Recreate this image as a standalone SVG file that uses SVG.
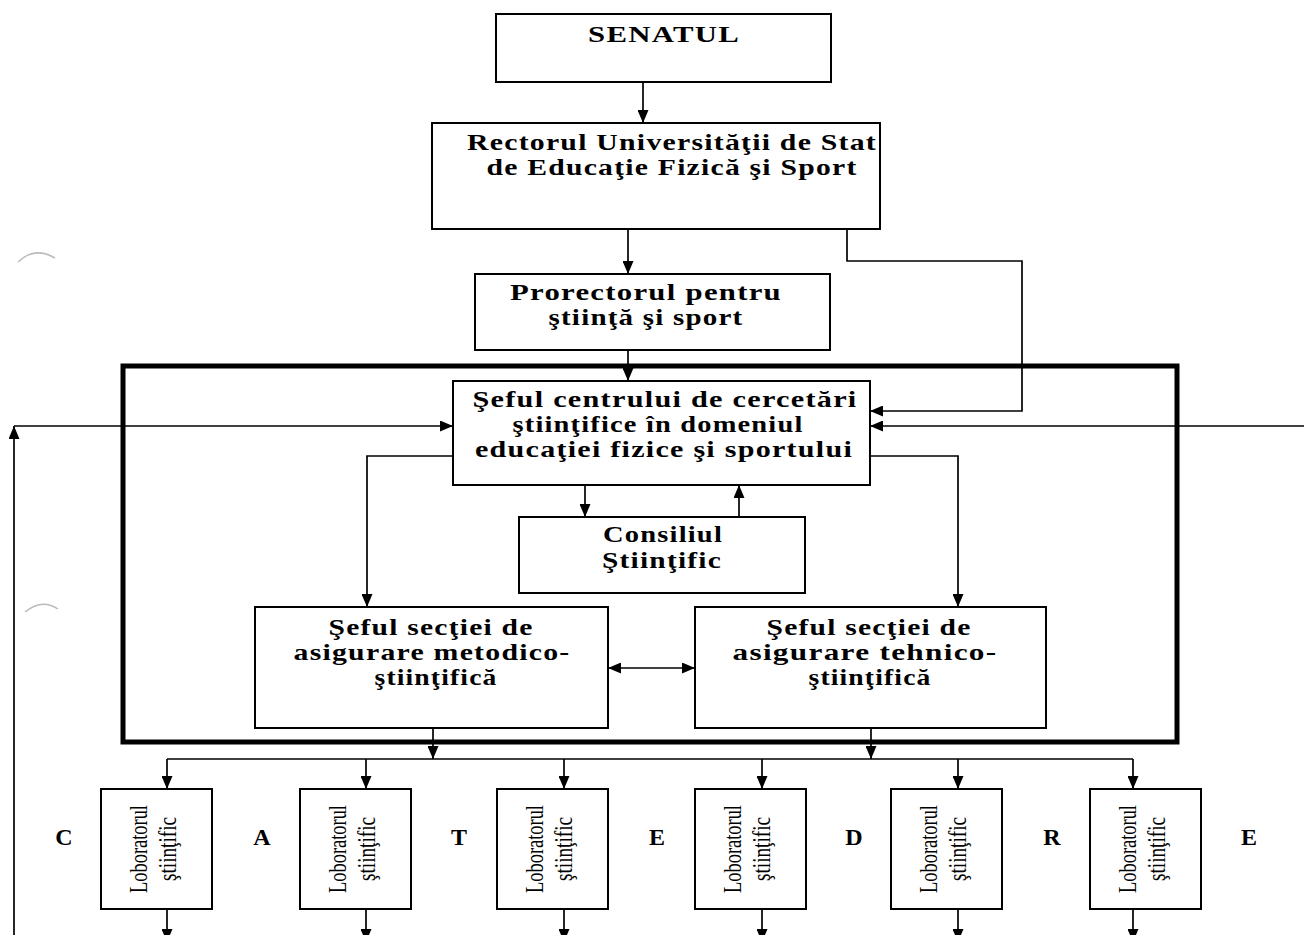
<svg xmlns="http://www.w3.org/2000/svg" width="1304" height="935" viewBox="0 0 1304 935">
<style>
.box{fill:#fff;stroke:#000;stroke-width:2}
.frame{fill:none;stroke:#000;stroke-width:5}
.t{font-family:"Liberation Serif","Times New Roman",serif;font-weight:bold;font-size:24px;fill:#000;text-anchor:middle;letter-spacing:1px}
.lab{font-family:"Liberation Serif","Times New Roman",serif;font-size:25px;fill:#000;text-anchor:middle}
.let{font-family:"Liberation Serif","Times New Roman",serif;font-weight:bold;font-size:24px;fill:#000;text-anchor:middle}
.c{fill:none;stroke:#000;stroke-width:1.7}
.a{marker-end:url(#ah)}
.punch{fill:none;stroke:#bbb;stroke-width:1.5}
</style>
<defs>
<marker id="ah" viewBox="0 0 13 11" refX="13" refY="5.5" markerWidth="13" markerHeight="11" markerUnits="userSpaceOnUse" orient="auto-start-reverse">
<path d="M0,0 L13,5.5 L0,11 z" fill="#000"/>
</marker>
</defs>
<rect width="1304" height="935" fill="#fff"/>
<path class="punch" d="M18,262 Q35,246 55,258"/>
<path class="punch" d="M25,612 Q42,598 58,609"/>

<rect id="frame" class="frame" x="123" y="366" width="1054" height="376"/>

<g id="senatul"><rect class="box" x="496" y="14" width="335" height="68"/>
<text class="t" x="664" y="42" textLength="152" lengthAdjust="spacingAndGlyphs">SENATUL</text></g>

<g id="rector"><rect class="box" x="432" y="123" width="448" height="106"/>
<text class="t" x="672" y="150" textLength="410" lengthAdjust="spacingAndGlyphs">Rectorul Universităţii de Stat</text>
<text class="t" x="672" y="175" textLength="371" lengthAdjust="spacingAndGlyphs">de Educaţie Fizică şi Sport</text></g>

<g id="prorector"><rect class="box" x="475" y="274" width="355" height="76"/>
<text class="t" x="646" y="300" textLength="272" lengthAdjust="spacingAndGlyphs">Prorectorul pentru</text>
<text class="t" x="646" y="325" textLength="195" lengthAdjust="spacingAndGlyphs">ştiinţă şi sport</text></g>

<g id="sef-centru"><rect class="box" x="453" y="381" width="417" height="104"/>
<text class="t" x="665" y="407" textLength="385" lengthAdjust="spacingAndGlyphs">Şeful centrului de cercetări</text>
<text class="t" x="658" y="432" textLength="291" lengthAdjust="spacingAndGlyphs">ştiinţifice în domeniul</text>
<text class="t" x="664" y="457" textLength="378" lengthAdjust="spacingAndGlyphs">educaţiei fizice şi sportului</text></g>

<g id="consiliul"><rect class="box" x="519" y="517" width="286" height="76"/>
<text class="t" x="663" y="542" textLength="120" lengthAdjust="spacingAndGlyphs">Consiliul</text>
<text class="t" x="662" y="568" textLength="120" lengthAdjust="spacingAndGlyphs">Ştiinţific</text></g>

<g id="sef-metodico"><rect class="box" x="255" y="607" width="353" height="121"/>
<text class="t" x="431" y="635" textLength="205" lengthAdjust="spacingAndGlyphs">Şeful secţiei de</text>
<text class="t" x="432" y="660" textLength="277" lengthAdjust="spacingAndGlyphs">asigurare metodico-</text>
<text class="t" x="436" y="685" textLength="123" lengthAdjust="spacingAndGlyphs">ştiinţifică</text></g>

<g id="sef-tehnico"><rect class="box" x="695" y="607" width="351" height="121"/>
<text class="t" x="869" y="635" textLength="205" lengthAdjust="spacingAndGlyphs">Şeful secţiei de</text>
<text class="t" x="865" y="660" textLength="265" lengthAdjust="spacingAndGlyphs">asigurare tehnico-</text>
<text class="t" x="870" y="685" textLength="123" lengthAdjust="spacingAndGlyphs">ştiinţifică</text></g>

<g id="lab1"><rect class="box" x="101" y="789" width="111" height="120"/>
<g transform="translate(156.5,849) rotate(-90)"><text class="lab" x="0" y="-10" textLength="88" lengthAdjust="spacingAndGlyphs">Loboratorul</text><text class="lab" x="0" y="19" textLength="64" lengthAdjust="spacingAndGlyphs">ştiinţific</text></g></g>
<g id="lab2"><rect class="box" x="300" y="789" width="111" height="120"/>
<g transform="translate(355.5,849) rotate(-90)"><text class="lab" x="0" y="-10" textLength="88" lengthAdjust="spacingAndGlyphs">Loboratorul</text><text class="lab" x="0" y="19" textLength="64" lengthAdjust="spacingAndGlyphs">ştiinţific</text></g></g>
<g id="lab3"><rect class="box" x="497" y="789" width="111" height="120"/>
<g transform="translate(552.5,849) rotate(-90)"><text class="lab" x="0" y="-10" textLength="88" lengthAdjust="spacingAndGlyphs">Loboratorul</text><text class="lab" x="0" y="19" textLength="64" lengthAdjust="spacingAndGlyphs">ştiinţific</text></g></g>
<g id="lab4"><rect class="box" x="695" y="789" width="111" height="120"/>
<g transform="translate(750.5,849) rotate(-90)"><text class="lab" x="0" y="-10" textLength="88" lengthAdjust="spacingAndGlyphs">Loboratorul</text><text class="lab" x="0" y="19" textLength="64" lengthAdjust="spacingAndGlyphs">ştiinţific</text></g></g>
<g id="lab5"><rect class="box" x="891" y="789" width="111" height="120"/>
<g transform="translate(946.5,849) rotate(-90)"><text class="lab" x="0" y="-10" textLength="88" lengthAdjust="spacingAndGlyphs">Loboratorul</text><text class="lab" x="0" y="19" textLength="64" lengthAdjust="spacingAndGlyphs">ştiinţific</text></g></g>
<g id="lab6"><rect class="box" x="1090" y="789" width="111" height="120"/>
<g transform="translate(1145.5,849) rotate(-90)"><text class="lab" x="0" y="-10" textLength="88" lengthAdjust="spacingAndGlyphs">Loboratorul</text><text class="lab" x="0" y="19" textLength="64" lengthAdjust="spacingAndGlyphs">ştiinţific</text></g></g>

<g id="catedre">
<text class="let" x="64" y="845">C</text>
<text class="let" x="262" y="845">A</text>
<text class="let" x="459" y="845">T</text>
<text class="let" x="657" y="845">E</text>
<text class="let" x="854" y="845">D</text>
<text class="let" x="1052" y="845">R</text>
<text class="let" x="1249" y="845">E</text>
</g>

<g id="connectors">
<path class="c a" d="M643,82 V123"/>
<path class="c a" d="M628,229 V274"/>
<path class="c a" d="M847,229 V261 H1022 V411 H870"/>
<path class="c a" d="M628,350 V381"/>
<path class="c a" d="M14,935 V426"/>
<path class="c a" d="M14,426 H453"/>
<path class="c a" d="M1304,426 H870"/>
<path class="c a" d="M453,456 H367 V607"/>
<path class="c a" d="M870,456 H958 V607"/>
<path class="c a" d="M585,485 V517"/>
<path class="c a" d="M739,517 V485"/>
<path class="c a" d="M608,668 H695" marker-start="url(#ah)"/>
<path class="c a" d="M433,728 V759"/>
<path class="c a" d="M871,728 V759"/>
<path class="c" d="M167,759 H1133"/>
<path class="c a" d="M167,759 V789"/>
<path class="c a" d="M366,759 V789"/>
<path class="c a" d="M564,759 V789"/>
<path class="c a" d="M762,759 V789"/>
<path class="c a" d="M958,759 V789"/>
<path class="c a" d="M1133,759 V789"/>
<path class="c a" d="M167,909 V942"/>
<path class="c a" d="M366,909 V942"/>
<path class="c a" d="M564,909 V942"/>
<path class="c a" d="M762,909 V942"/>
<path class="c a" d="M958,909 V942"/>
<path class="c a" d="M1133,909 V942"/>
</g>
</svg>
